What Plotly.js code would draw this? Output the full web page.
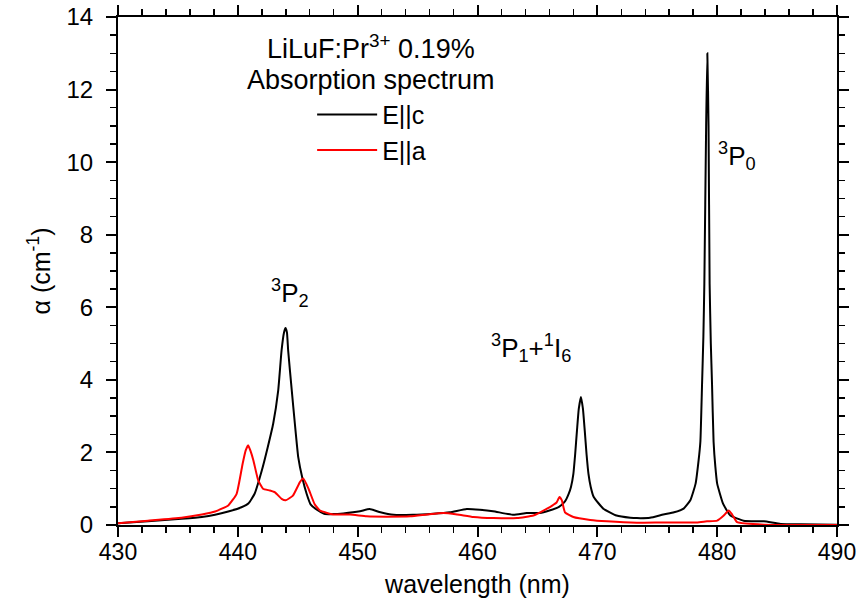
<!DOCTYPE html>
<html>
<head>
<meta charset="utf-8">
<script src="https://cdn.plot.ly/plotly-3.0.1.min.js"></script>
<style>html,body{margin:0;padding:0;background:#fff;}#chart{width:857px;height:603px;}</style>
</head>
<body>
<div id="chart"></div>
<script>
// E||c (black)
const wlC = [430.0,432.5,435.3,437.0,438.1,439.2,440.3,440.9,441.4,442.0,442.5,442.95,443.37,443.65,443.85,443.98,444.1,444.2,444.5,444.76,445.04,445.38,445.74,446.07,446.6,447.2,448.0,448.8,450.2,451.0,451.9,453.0,454.6,456.3,457.7,459.1,460.2,461.3,463.0,464.1,465.2,466.0,466.8,467.3,467.6,467.8,468.0,468.15,468.3,468.45,468.63,468.8,468.95,469.1,469.26,469.45,469.7,470.5,471.6,472.75,473.3,474.4,475.5,476.4,477.2,477.76,478.2,478.45,478.6,478.74,478.85,478.93,479.08,479.18,479.28,479.37,479.47,479.57,479.7,479.85,480.0,480.5,481.1,482.2,483.9,485.3,487.0,490.0];
const alphaC = [0.05,0.10,0.17,0.22,0.28,0.37,0.49,0.60,0.86,1.50,2.15,2.79,3.71,4.81,5.30,5.43,5.30,4.81,3.71,2.79,1.87,1.30,0.86,0.57,0.42,0.31,0.30,0.32,0.38,0.44,0.35,0.28,0.28,0.31,0.35,0.44,0.42,0.38,0.28,0.33,0.33,0.40,0.50,0.65,0.85,1.05,1.41,1.95,2.60,3.20,3.53,3.20,2.60,1.95,1.41,1.05,0.77,0.45,0.26,0.20,0.19,0.20,0.29,0.35,0.45,0.68,1.14,1.78,2.30,3.90,5.20,6.65,11.0,13.0,11.0,6.65,5.00,3.90,2.30,1.60,1.14,0.58,0.26,0.12,0.10,0.03,0.02,0.01];
// E||a (red)
const wlA = [430.0,432.5,435.3,437.0,438.1,439.2,439.9,440.4,440.65,440.86,441.05,441.3,441.7,442.1,442.67,443.1,443.65,444.0,444.6,445.18,445.46,445.9,446.4,446.85,447.96,449.36,450.75,452.4,454.4,455.8,457.15,458.3,459.66,461.33,463.3,464.67,465.8,466.3,466.6,466.84,467.04,467.3,468.0,469.4,470.8,473.3,475.5,478.3,479.15,480.0,480.55,480.96,481.25,481.66,483.9,490.0];
const alphaA = [0.05,0.12,0.20,0.29,0.37,0.54,0.86,1.69,2.05,2.20,2.05,1.78,1.23,1.00,0.95,0.90,0.72,0.68,0.81,1.18,1.28,1.00,0.58,0.40,0.29,0.29,0.24,0.23,0.24,0.29,0.33,0.29,0.22,0.19,0.19,0.26,0.45,0.55,0.62,0.77,0.68,0.35,0.22,0.14,0.10,0.06,0.07,0.07,0.10,0.12,0.26,0.40,0.29,0.08,0.01,0.00];

const seriesNames = ['E||c', 'E||a'];
const FONT = 'Liberation Sans, Arial, sans-serif';

const traces = [
  {x: wlC, y: alphaC, type: 'scatter', mode: 'lines', name: seriesNames[0],
   line: {color: '#000000', width: 2, shape: 'spline', smoothing: 0.4}},
  {x: wlA, y: alphaA, type: 'scatter', mode: 'lines', name: seriesNames[1],
   line: {color: '#ff0000', width: 2, shape: 'spline', smoothing: 0.4}}
];

const axisCommon = {
  showgrid: false, zeroline: false, showline: true, linecolor: '#000', linewidth: 2,
  mirror: 'allticks', ticks: 'outside', ticklen: 10, tickwidth: 2, tickcolor: '#000',
  tickfont: {family: FONT, size: 24, color: '#000'}, automargin: false
};

const layout = {
  width: 857, height: 603,
  margin: {l: 118, r: 20, t: 17, b: 78},
  paper_bgcolor: '#fff', plot_bgcolor: '#fff',
  font: {family: FONT, color: '#000'},
  showlegend: true,
  legend: {x: 0.27, y: 0.853, xanchor: 'left', yanchor: 'top', bgcolor: 'rgba(0,0,0,0)',
           font: {family: FONT, size: 25, color: '#000'}, itemwidth: 60, tracegroupgap: 0},
  xaxis: Object.assign({}, axisCommon, {
    range: [430, 490], dtick: 10, tick0: 430, ticklabelstandoff: -5,
    tickfont: {family: FONT, size: 23, color: '#000'},
    minor: {dtick: 2, ticklen: 6, tickwidth: 1.5, tickcolor: '#000', ticks: 'outside'},
    title: {text: 'wavelength (nm)', font: {family: FONT, size: 25, color: '#000'}, standoff: 12}
  }),
  yaxis: Object.assign({}, axisCommon, {
    range: [0, 14], dtick: 2, tick0: 0, ticklabelstandoff: 8,
    minor: {dtick: 0.5, ticklen: 6, tickwidth: 1.5, tickcolor: '#000', ticks: 'outside'},
    title: {text: 'α (cm<sup>-1</sup>)', font: {family: FONT, size: 25, color: '#000'}, standoff: 9}
  }),
  annotations: [
    {xref: 'paper', yref: 'paper', x: 0.3525, y: 0.941, text: 'LiLuF:Pr<sup>3+</sup> 0.19%', showarrow: false,
     font: {family: FONT, size: 27, color: '#000'}, xanchor: 'center', yanchor: 'middle'},
    {xref: 'paper', yref: 'paper', x: 0.3525, y: 0.876, text: 'Absorption spectrum', showarrow: false,
     font: {family: FONT, size: 27, color: '#000'}, xanchor: 'center', yanchor: 'middle'},
    {xref: 'x', yref: 'y', x: 444.34, y: 6.39, text: '<sup>3</sup>P<sub>2</sub>', showarrow: false,
     font: {family: FONT, size: 26, color: '#000'}, xanchor: 'center', yanchor: 'middle'},
    {xref: 'x', yref: 'y', x: 464.48, y: 4.87, text: '<sup>3</sup>P<sub>1</sub>+<sup>1</sup>I<sub>6</sub>', showarrow: false,
     font: {family: FONT, size: 26, color: '#000'}, xanchor: 'center', yanchor: 'middle'},
    {xref: 'x', yref: 'y', x: 481.65, y: 10.17, text: '<sup>3</sup>P<sub>0</sub>', showarrow: false,
     font: {family: FONT, size: 26, color: '#000'}, xanchor: 'center', yanchor: 'middle'}
  ]
};

Plotly.newPlot('chart', traces, layout, {displayModeBar: false, staticPlot: true});
</script>
</body>
</html>
